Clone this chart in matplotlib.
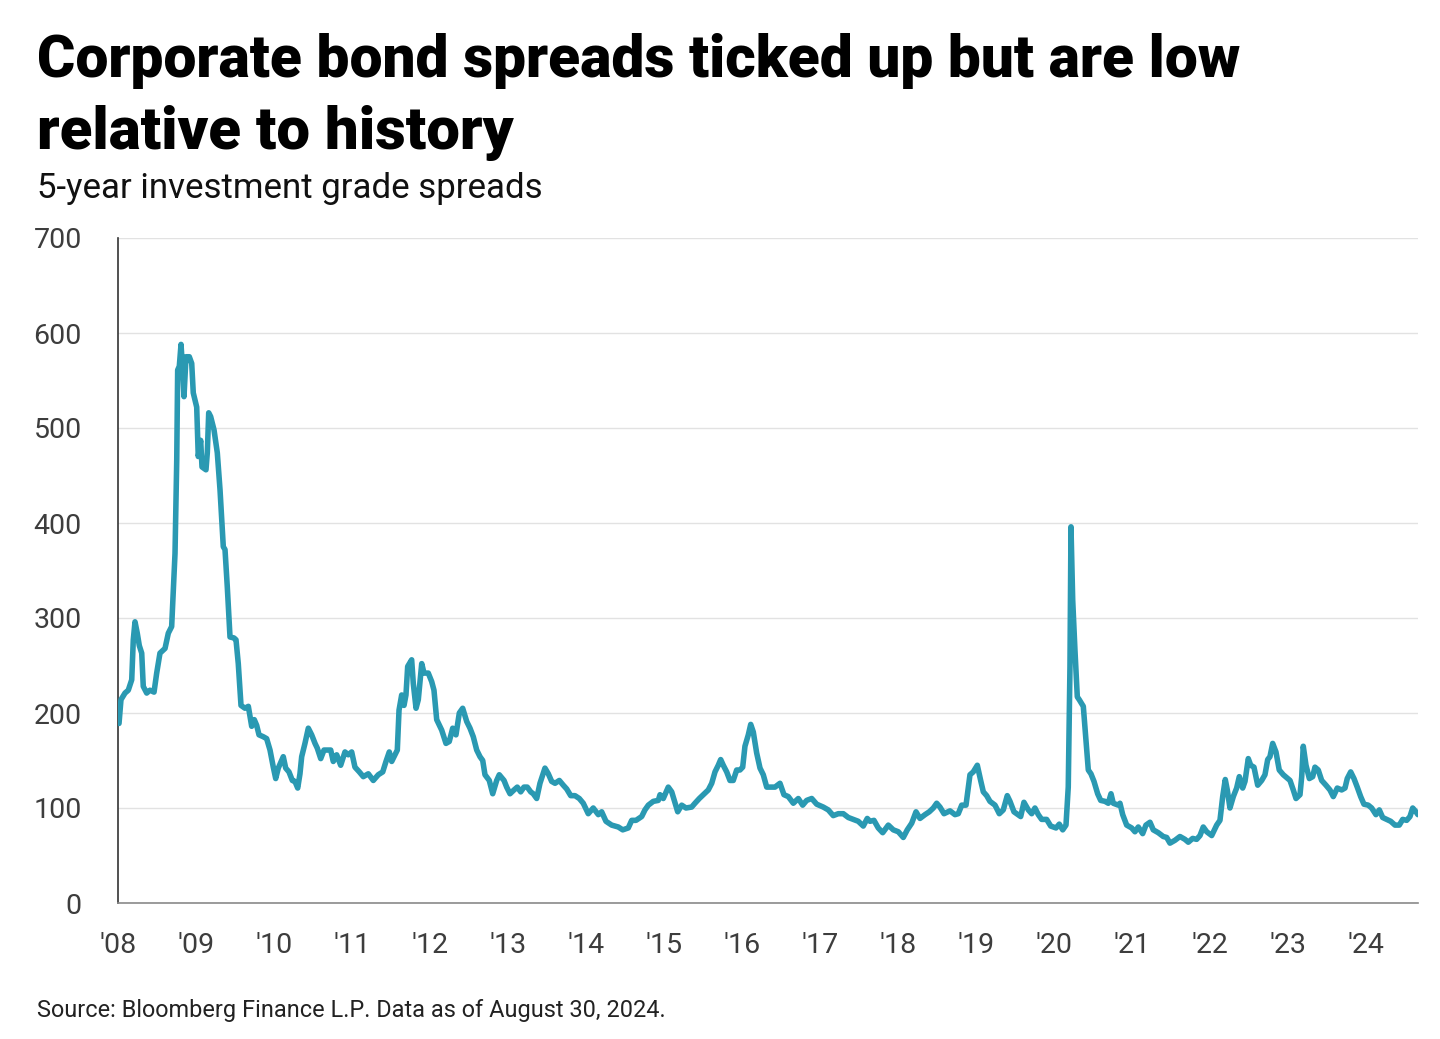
import matplotlib
matplotlib.use("Agg")
import matplotlib.pyplot as plt
from matplotlib import font_manager

# ---------------- data ----------------
years = [
 2008.013, 2008.038, 2008.090, 2008.132, 2008.176, 2008.196, 2008.218, 2008.247, 2008.273, 2008.304,
 2008.324, 2008.368, 2008.410, 2008.462, 2008.496, 2008.538, 2008.603, 2008.645, 2008.688, 2008.731,
 2008.753, 2008.765, 2008.786, 2008.808, 2008.829, 2008.846, 2008.872, 2008.914, 2008.945, 2008.965,
 2009.009, 2009.029, 2009.060, 2009.077, 2009.128, 2009.145, 2009.163, 2009.188, 2009.231, 2009.273,
 2009.308, 2009.350, 2009.372, 2009.401, 2009.436, 2009.487, 2009.513, 2009.542, 2009.577, 2009.628,
 2009.671, 2009.714, 2009.747, 2009.778, 2009.808, 2009.863, 2009.906, 2009.949, 2009.991, 2010.022,
 2010.055, 2010.119, 2010.150, 2010.192, 2010.235, 2010.269, 2010.304, 2010.333, 2010.355, 2010.397,
 2010.440, 2010.483, 2010.526, 2010.555, 2010.599, 2010.641, 2010.696, 2010.727, 2010.760, 2010.804,
 2010.855, 2010.910, 2010.953, 2010.996, 2011.038, 2011.094, 2011.145, 2011.209, 2011.273, 2011.337,
 2011.394, 2011.436, 2011.478, 2011.509, 2011.551, 2011.581, 2011.603, 2011.637, 2011.667, 2011.692,
 2011.714, 2011.765, 2011.786, 2011.821, 2011.850, 2011.894, 2011.923, 2011.978, 2012.022, 2012.051,
 2012.086, 2012.150, 2012.205, 2012.247, 2012.291, 2012.333, 2012.376, 2012.419, 2012.471, 2012.513,
 2012.555, 2012.599, 2012.641, 2012.676, 2012.705, 2012.760, 2012.804, 2012.855, 2012.888, 2012.949,
 2012.983, 2013.026, 2013.077, 2013.119, 2013.163, 2013.205, 2013.247, 2013.291, 2013.324, 2013.368,
 2013.410, 2013.474, 2013.517, 2013.560, 2013.603, 2013.658, 2013.709, 2013.753, 2013.804, 2013.859,
 2013.914, 2013.965, 2014.029, 2014.093, 2014.158, 2014.201, 2014.256, 2014.329, 2014.414, 2014.471,
 2014.542, 2014.586, 2014.641, 2014.714, 2014.756, 2014.799, 2014.863, 2014.927, 2014.949, 2014.991,
 2015.055, 2015.099, 2015.132, 2015.176, 2015.227, 2015.282, 2015.355, 2015.397, 2015.453, 2015.504,
 2015.568, 2015.612, 2015.654, 2015.696, 2015.727, 2015.760, 2015.804, 2015.846, 2015.888, 2015.932,
 2015.974, 2016.009, 2016.038, 2016.081, 2016.112, 2016.145, 2016.188, 2016.231, 2016.273, 2016.317,
 2016.359, 2016.423, 2016.487, 2016.538, 2016.594, 2016.658, 2016.722, 2016.778, 2016.829, 2016.894,
 2016.958, 2017.042, 2017.106, 2017.170, 2017.235, 2017.299, 2017.363, 2017.427, 2017.491, 2017.555,
 2017.606, 2017.641, 2017.692, 2017.747, 2017.804, 2017.876, 2017.940, 2018.004, 2018.068, 2018.119,
 2018.176, 2018.231, 2018.282, 2018.346, 2018.401, 2018.453, 2018.496, 2018.538, 2018.590, 2018.667,
 2018.731, 2018.773, 2018.817, 2018.872, 2018.923, 2018.965, 2019.017, 2019.060, 2019.094, 2019.137,
 2019.179, 2019.244, 2019.299, 2019.350, 2019.401, 2019.436, 2019.487, 2019.522, 2019.573, 2019.615,
 2019.671, 2019.714, 2019.756, 2019.799, 2019.842, 2019.906, 2019.958, 2020.026, 2020.068, 2020.112,
 2020.154, 2020.183, 2020.205, 2020.218, 2020.240, 2020.269, 2020.299, 2020.324, 2020.376, 2020.410,
 2020.440, 2020.474, 2020.513, 2020.560, 2020.599, 2020.654, 2020.696, 2020.731, 2020.760, 2020.824,
 2020.846, 2020.881, 2020.932, 2020.996, 2021.038, 2021.081, 2021.137, 2021.179, 2021.231, 2021.273,
 2021.337, 2021.401, 2021.445, 2021.487, 2021.551, 2021.615, 2021.679, 2021.722, 2021.778, 2021.829,
 2021.872, 2021.914, 2021.958, 2022.022, 2022.086, 2022.128, 2022.163, 2022.196, 2022.222, 2022.256,
 2022.299, 2022.342, 2022.376, 2022.419, 2022.449, 2022.491, 2022.522, 2022.564, 2022.612, 2022.663,
 2022.705, 2022.740, 2022.769, 2022.804, 2022.846, 2022.888, 2022.940, 2022.983, 2023.026, 2023.068,
 2023.103, 2023.154, 2023.176, 2023.196, 2023.231, 2023.274, 2023.317, 2023.346, 2023.388, 2023.432,
 2023.487, 2023.538, 2023.581, 2023.632, 2023.688, 2023.731, 2023.760, 2023.804, 2023.846, 2023.888,
 2023.932, 2023.974, 2024.029, 2024.073, 2024.128, 2024.171, 2024.214, 2024.265, 2024.317, 2024.372,
 2024.427, 2024.471, 2024.522, 2024.564, 2024.599, 2024.641, 2024.666,
]
spreads = [
 189, 214, 221, 224, 235, 277, 296, 284, 271, 263,
 228, 221, 224, 222, 242, 263, 268, 284, 291, 368,
 466, 561, 565, 588, 561, 533, 575, 575, 568, 537,
 522, 470, 487, 459, 456, 474, 516, 512, 498, 474,
 435, 375, 372, 333, 280, 279, 277, 252, 208, 205,
 207, 186, 193, 187, 177, 175, 173, 161, 143, 131,
 142, 154, 142, 138, 129, 128, 121, 136, 154, 168,
 184, 177, 168, 163, 152, 161, 161, 161, 149, 156,
 145, 159, 156, 159, 143, 138, 133, 136, 129, 135,
 138, 149, 159, 149, 156, 161, 203, 219, 208, 219,
 249, 256, 231, 205, 214, 252, 242, 242, 233, 224,
 193, 182, 168, 170, 184, 177, 200, 205, 191, 184,
 175, 161, 154, 150, 135, 129, 115, 129, 135, 129,
 122, 115, 119, 122, 117, 122, 122, 117, 115, 110,
 126, 142, 136, 128, 126, 129, 124, 120, 113, 113,
 110, 105, 94, 100, 93, 96, 86, 82, 80, 77,
 79, 87, 87, 91, 98, 103, 107, 108, 114, 110,
 122, 117, 108, 96, 103, 100, 101, 105, 110, 114,
 119, 126, 138, 145, 151, 145, 138, 129, 129, 140,
 140, 143, 165, 177, 188, 180, 158, 142, 135, 122,
 122, 122, 126, 114, 112, 105, 110, 103, 108, 110,
 104, 101, 98, 92, 94, 94, 90, 88, 86, 81,
 89, 86, 87, 79, 74, 82, 77, 75, 69, 77,
 84, 96, 89, 93, 96, 100, 105, 101, 94, 97,
 93, 94, 103, 103, 135, 138, 145, 129, 117, 113,
 107, 103, 94, 98, 113, 107, 96, 94, 91, 106,
 98, 94, 100, 93, 88, 88, 81, 79, 83, 77,
 82, 122, 249, 396, 319, 266, 217, 214, 207, 172,
 140, 136, 128, 115, 108, 107, 105, 115, 105, 103,
 105, 93, 82, 79, 75, 80, 73, 82, 85, 77,
 74, 70, 69, 63, 66, 70, 67, 64, 68, 67,
 71, 80, 75, 71, 82, 87, 112, 130, 119, 100,
 112, 121, 133, 121, 128, 152, 145, 143, 124, 129,
 135, 151, 154, 168, 159, 140, 135, 132, 129, 119,
 110, 114, 133, 165, 145, 131, 133, 143, 140, 129,
 124, 119, 112, 121, 119, 121, 131, 138, 131, 122,
 112, 104, 103, 100, 93, 98, 90, 88, 86, 82,
 82, 88, 87, 91, 100, 96, 93,
]
y_ticks = [0, 100, 200, 300, 400, 500, 600, 700]
x_tick_years = list(range(2008, 2025))
x_tick_labels = ["'" + str(y)[2:] for y in x_tick_years]

title_line1 = "Corporate bond spreads ticked up but are low"
title_line2 = "relative to history"
subtitle_text = "5-year investment grade spreads"
source_text = "Source: Bloomberg Finance L.P. Data as of August 30, 2024."

# ---------------- styling ----------------
W, H, DPI = 1440, 1039, 100
available = {f.name for f in font_manager.fontManager.ttflist}
def pick(*names):
    for n in names:
        if n in available:
            return n
    return "DejaVu Sans"
title_font = pick("Liberation Sans Narrow", "Roboto", "Open Sans")
body_font = pick("Liberation Sans Narrow", "Roboto", "Noto Sans")

LINE = "#2a99b2"
TXT = "#3d3d3d"

fig = plt.figure(figsize=(W / DPI, H / DPI), dpi=DPI)
fig.patch.set_facecolor("white")
ax = fig.add_axes([118 / W, 1 - 903 / H, (1418 - 118) / W, (903 - 238) / H])

ax.plot(years, spreads, color=LINE, lw=4.0, solid_joinstyle="round", solid_capstyle="round", zorder=3)
ax.set_xlim(2008.0, 2024.667)
ax.set_ylim(0, 700)
ax.set_yticks(y_ticks)
ax.set_yticklabels([str(v) for v in y_ticks], fontfamily=body_font, fontsize=20.5, color=TXT)
ax.set_xticks(x_tick_years)
ax.set_xticklabels(x_tick_labels, fontfamily=body_font, fontsize=20.5, color=TXT)
ax.tick_params(axis="both", length=0)
ax.tick_params(axis="y", pad=26)
ax.tick_params(axis="x", pad=21)
ax.grid(axis="y", color="#e2e2e2", lw=1.0, zorder=0)
ax.grid(axis="x", visible=False)
for s in ("top", "right"):
    ax.spines[s].set_visible(False)
ax.spines["left"].set_color("#333333")
ax.spines["left"].set_linewidth(1.2)
ax.spines["bottom"].set_color("#8a8a8a")
ax.spines["bottom"].set_linewidth(1.2)
ax.set_axisbelow(True)

renderer = fig.canvas.get_renderer()

def fit_text(x_px, base_px, text, family, weight, target_w, size0, color, **kw):
    t = fig.text(x_px / W, 1 - base_px / H, text, fontfamily=family, fontweight=weight,
                 fontsize=size0, color=color, va="baseline", ha="left", **kw)
    w = t.get_window_extent(renderer).width
    t.set_fontsize(size0 * target_w / w)
    return t

fit_text(37, 77, title_line1, title_font, "heavy", 1203, 40, "#000000")
fit_text(37, 149, title_line2, title_font, "heavy", 477, 40, "#000000")
fit_text(37, 198, subtitle_text, body_font, "normal", 506, 24, "#111111")
fit_text(37, 1017, source_text, body_font, "normal", 625, 18, "#222222")

fig.savefig("out.png", dpi=DPI, facecolor="white")
